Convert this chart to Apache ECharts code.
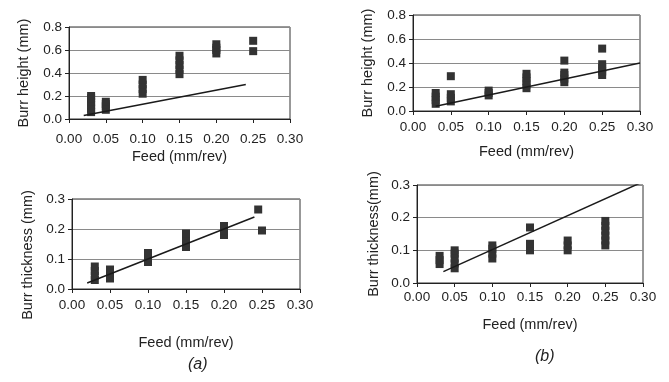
<!DOCTYPE html>
<html><head><meta charset="utf-8">
<script src="https://cdn.jsdelivr.net/npm/echarts@6/dist/echarts.min.js"></script>
<style>html,body{margin:0;padding:0;background:#fff}#c{width:669px;height:382px}</style>
</head><body><div id="c"></div>
<script>
// Feed (mm/rev) vs burr height / thickness, points as [feed, value]
const aHeight = [[0.03,0.06],[0.03,0.09],[0.03,0.12],[0.03,0.15],[0.03,0.18],[0.03,0.20],
  [0.05,0.08],[0.05,0.11],[0.05,0.13],[0.05,0.15],
  [0.10,0.22],[0.10,0.26],[0.10,0.30],[0.10,0.34],
  [0.15,0.39],[0.15,0.43],[0.15,0.47],[0.15,0.51],[0.15,0.55],
  [0.20,0.57],[0.20,0.60],[0.20,0.62],[0.20,0.65],
  [0.25,0.59],[0.25,0.68]];
const aHeightFit = [[0.02,0.03],[0.24,0.30]];

const bHeight = [[0.03,0.06],[0.03,0.09],[0.03,0.12],[0.03,0.15],
  [0.05,0.08],[0.05,0.11],[0.05,0.14],[0.05,0.29],
  [0.10,0.13],[0.10,0.15],[0.10,0.17],
  [0.15,0.19],[0.15,0.22],[0.15,0.25],[0.15,0.28],[0.15,0.31],
  [0.20,0.24],[0.20,0.27],[0.20,0.30],[0.20,0.32],[0.20,0.42],
  [0.25,0.30],[0.25,0.33],[0.25,0.36],[0.25,0.39],[0.25,0.52]];
const bHeightFit = [[0.03,0.04],[0.30,0.40]];

const aThick = [[0.03,0.03],[0.03,0.045],[0.03,0.06],[0.03,0.075],
  [0.05,0.035],[0.05,0.05],[0.05,0.065],
  [0.10,0.09],[0.10,0.105],[0.10,0.12],
  [0.15,0.14],[0.15,0.155],[0.15,0.17],[0.15,0.185],
  [0.20,0.18],[0.20,0.195],[0.20,0.21],
  [0.245,0.265],[0.25,0.195]];
const aThickFit = [[0.02,0.02],[0.24,0.24]];

const bThick = [[0.03,0.058],[0.03,0.07],[0.03,0.083],
  [0.05,0.045],[0.05,0.06],[0.05,0.075],[0.05,0.09],[0.05,0.10],
  [0.10,0.075],[0.10,0.09],[0.10,0.105],[0.10,0.115],
  [0.15,0.10],[0.15,0.11],[0.15,0.12],[0.15,0.17],
  [0.20,0.10],[0.20,0.115],[0.20,0.13],
  [0.25,0.115],[0.25,0.13],[0.25,0.145],[0.25,0.16],[0.25,0.175],[0.25,0.19]];
const bThickFit = [[0.035,0.035],[0.30,0.31]];

const xTitle = 'Feed (mm/rev)';
const yTitles = ['Burr height (mm)', 'Burr height (mm)', 'Burr thickness (mm)', 'Burr thickness(mm)'];
const panelLabels = ['(a)', '(b)'];

const FONT = 'Liberation Sans, Arial, sans-serif';
const INK = '#222';
const grids = [
  {left:69, top:27, width:221, height:92},
  {left:413, top:15, width:227, height:96},
  {left:72, top:199, width:228, height:90},
  {left:417, top:185, width:226, height:98}
];
const xLabelMargin = [13, 9, 9, 7];
const xNameGap = [30, 33, 46, 34];
const yNameGap = [38, 38, 37, 36];
const yMax = [0.8, 0.8, 0.3, 0.3];
const yInt = [0.2, 0.2, 0.1, 0.1];

const option = {
  backgroundColor:'#fff',
  animation:false,
  textStyle:{fontFamily:FONT},
  title:[
    {text:panelLabels[0], left:183, top:352, textStyle:{fontFamily:FONT, fontSize:16, fontStyle:'italic', fontWeight:'normal', color:INK}},
    {text:panelLabels[1], left:530, top:344, textStyle:{fontFamily:FONT, fontSize:16, fontStyle:'italic', fontWeight:'normal', color:INK}}
  ],
  grid: grids.map(g => Object.assign({show:true, borderColor:'#333', borderWidth:1, backgroundColor:'transparent'}, g)),
  xAxis: grids.map((g,i) => ({
    type:'value', gridIndex:i, min:0, max:0.30, interval:0.05,
    name:xTitle, nameLocation:'middle', nameGap:xNameGap[i],
    nameTextStyle:{fontFamily:FONT, fontSize:14.5, color:INK},
    axisLine:{show:true, onZero:false, lineStyle:{color:INK, width:1}},
    axisTick:{show:true, inside:false, length:4, lineStyle:{color:INK}},
    axisLabel:{margin:xLabelMargin[i], fontFamily:FONT, fontSize:13.5, color:INK, formatter:v=>v.toFixed(2)},
    splitLine:{show:false}
  })),
  yAxis: grids.map((g,i) => ({
    type:'value', gridIndex:i, min:0, max:yMax[i], interval:yInt[i],
    name:yTitles[i], nameLocation:'middle', nameGap:yNameGap[i],
    nameTextStyle:{fontFamily:FONT, fontSize:14.5, color:INK, padding: i===2 ? [0,22,0,0] : 0},
    axisLine:{show:true, lineStyle:{color:INK, width:1}},
    axisTick:{show:true, inside:false, length:4, lineStyle:{color:INK}},
    axisLabel:{margin:7, fontFamily:FONT, fontSize:13.5, color:INK, formatter:v=>v.toFixed(1)},
    splitLine:{show:true, lineStyle:{color:'#8a8a8a', width:1}}
  })),
  series: [
    [aHeight, aHeightFit], [bHeight, bHeightFit], [aThick, aThickFit], [bThick, bThickFit]
  ].flatMap((p,i) => [
    {type:'scatter', xAxisIndex:i, yAxisIndex:i, data:p[0], symbol:'rect', symbolSize:8,
     itemStyle:{color:'#333', opacity:1}, z:3},
    {type:'line', xAxisIndex:i, yAxisIndex:i, data:p[1], showSymbol:false, symbol:'none',
     lineStyle:{color:'#1a1a1a', width:1.5}, z:4}
  ])
};
const chart = echarts.init(document.getElementById('c'), null, {renderer:'canvas'});
chart.setOption(option);
</script>
</body></html>
